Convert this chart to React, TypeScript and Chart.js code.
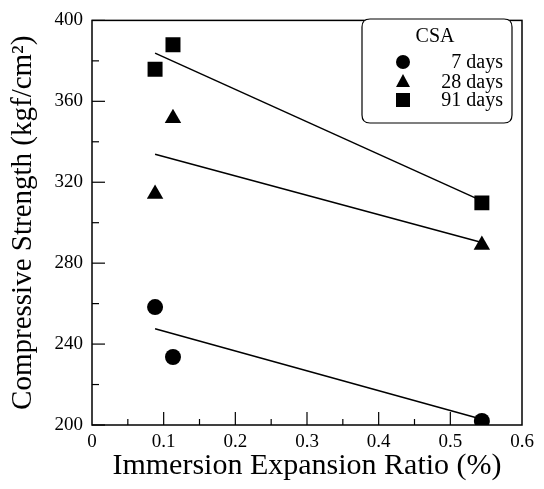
import React, { useEffect, useRef } from "react";
import { Chart, registerables } from "chart.js";

Chart.register(...registerables);

const expansionX = [0.088, 0.113, 0.544];
const days7 = [258.3, 233.6, 202.0];
const days28 = [314.2, 351.6, 289.0];
const days91 = [375.8, 388.0, 309.8];
const fitX = [0.088, 0.544];
const fit7 = [247.6, 202.8];
const fit28 = [333.8, 290.2];
const fit91 = [383.8, 310.8];
const seriesLabels = ["7 days", "28 days", "91 days"];
const legendTitle = "CSA";
const xTitle = "Immersion Expansion Ratio (%)";
const yTitle = "Compressive Strength (kgf/cm\u00B2)";

const FONT = "'Liberation Serif', 'Times New Roman', serif";

const toPts = (xs: number[], ys: number[]) => xs.map((x, i) => ({ x, y: ys[i] }));

function drawMarker(ctx: CanvasRenderingContext2D, style: string, x: number, y: number) {
  ctx.beginPath();
  if (style === "circle") {
    ctx.arc(x, y, 7, 0, Math.PI * 2);
  } else if (style === "triangle") {
    ctx.moveTo(x, y - 8);
    ctx.lineTo(x + 7, y + 5);
    ctx.lineTo(x - 7, y + 5);
    ctx.closePath();
  } else {
    ctx.rect(x - 7, y - 7, 14, 14);
  }
  ctx.fill();
}

const framePlugin = {
  id: "frameTicks",
  afterDatasetsDraw(chart: any) {
    const { ctx, chartArea, scales } = chart;
    const { left, right, top, bottom } = chartArea;
    ctx.save();
    ctx.strokeStyle = "#000";
    ctx.lineWidth = 1.5;
    ctx.strokeRect(left, top, right - left, bottom - top);
    ctx.lineWidth = 1.2;
    const ys = scales.y;
    for (let v = 200; v <= 400; v += 20) {
      const py = ys.getPixelForValue(v);
      const len = v % 40 === 0 ? 13 : 7;
      ctx.beginPath();
      ctx.moveTo(left, py);
      ctx.lineTo(left + len, py);
      ctx.stroke();
    }
    const xs = scales.x;
    for (let i = 1; i < 12; i++) {
      const v = i * 0.05;
      const px = xs.getPixelForValue(v);
      const len = i % 2 === 0 ? 13 : 6;
      ctx.beginPath();
      ctx.moveTo(px, bottom);
      ctx.lineTo(px, bottom - len);
      ctx.stroke();
    }
    ctx.restore();
  },
  afterDraw(chart: any) {
    const { ctx } = chart;
    ctx.save();
    const bx = 362, by = 19, bw = 150, bh = 104, r = 8;
    ctx.strokeStyle = "#000";
    ctx.lineWidth = 1.2;
    ctx.beginPath();
    ctx.moveTo(bx + r, by);
    ctx.lineTo(bx + bw - r, by);
    ctx.quadraticCurveTo(bx + bw, by, bx + bw, by + r);
    ctx.lineTo(bx + bw, by + bh - r);
    ctx.quadraticCurveTo(bx + bw, by + bh, bx + bw - r, by + bh);
    ctx.lineTo(bx + r, by + bh);
    ctx.quadraticCurveTo(bx, by + bh, bx, by + bh - r);
    ctx.lineTo(bx, by + r);
    ctx.quadraticCurveTo(bx, by, bx + r, by);
    ctx.fillStyle = "#fff";
    ctx.fill();
    ctx.stroke();
    ctx.fillStyle = "#000";
    ctx.font = `20px ${FONT}`;
    ctx.textAlign = "center";
    ctx.textBaseline = "alphabetic";
    ctx.fillText(legendTitle, 435, 42);
    const styles = ["circle", "triangle", "rect"];
    const rowsY = [62, 82, 100];
    ctx.textAlign = "right";
    styles.forEach((st, i) => {
      drawMarker(ctx, st, 403, rowsY[i]);
      ctx.fillText(seriesLabels[i], 503, rowsY[i] + 6);
    });
    ctx.restore();
  },
};

export default function App() {
  const ref = useRef<HTMLCanvasElement | null>(null);
  useEffect(() => {
    document.body.style.margin = "0";
    if (!ref.current) return;
    const mk = (style: string, radius: number, data: number[], label: string) => ({
      type: "scatter" as const,
      label,
      data: toPts(expansionX, data),
      pointStyle: style,
      pointRadius: radius,
      pointBackgroundColor: "#000",
      pointBorderColor: "#000",
      pointBorderWidth: 0,
      showLine: false,
    });
    const fit = (data: number[]) => ({
      type: "line" as const,
      data: toPts(fitX, data),
      borderColor: "#000",
      borderWidth: 1.5,
      pointRadius: 0,
      fill: false,
    });
    const chart = new Chart(ref.current, {
      type: "scatter",
      data: {
        datasets: [
          fit(fit7),
          fit(fit28),
          fit(fit91),
          mk("circle", 8, days7, seriesLabels[0]),
          mk("triangle", 9.5, days28, seriesLabels[1]),
          mk("rect", 10.6, days91, seriesLabels[2]),
        ] as any,
      },
      options: {
        animation: false,
        responsive: false,
        layout: { padding: { top: 13, right: 22, left: 0, bottom: 0 } },
        plugins: { legend: { display: false }, tooltip: { enabled: false } },
        scales: {
          x: {
            type: "linear",
            min: 0,
            max: 0.6,
            afterFit: (s: any) => {
              s.height = 64;
            },
            ticks: {
              stepSize: 0.1,
              color: "#000",
              padding: 6,
              font: { family: FONT, size: 19 },
              callback: (v: any) => (Math.abs(v) < 1e-9 ? "0" : Number(v).toFixed(1)),
            },
            grid: { display: false, drawTicks: false },
            border: { display: false },
            title: {
              display: true,
              text: xTitle,
              color: "#000",
              font: { family: FONT, size: 30 },
              padding: { top: 0, bottom: 5 },
            },
          },
          y: {
            type: "linear",
            min: 200,
            max: 400,
            afterFit: (s: any) => {
              s.width = 92;
            },
            ticks: {
              stepSize: 40,
              color: "#000",
              padding: 9,
              font: { family: FONT, size: 19 },
            },
            grid: { display: false, drawTicks: false },
            border: { display: false },
            title: {
              display: true,
              text: yTitle,
              color: "#000",
              font: { family: FONT, size: 29 },
              padding: { top: 6, bottom: 0 },
            },
          },
        },
      } as any,
      plugins: [framePlugin],
    });
    return () => chart.destroy();
  }, []);
  return <canvas ref={ref} width={544} height={489} style={{ display: "block" }} />;
}
